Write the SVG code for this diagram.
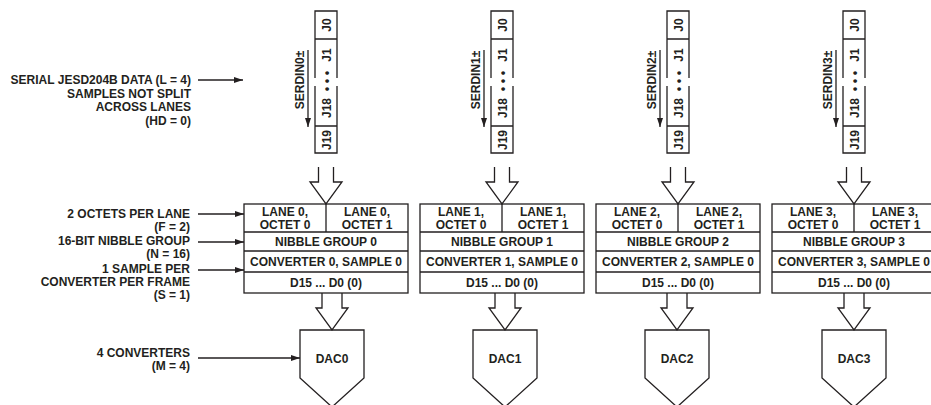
<svg xmlns="http://www.w3.org/2000/svg" width="931" height="405" viewBox="0 0 931 405">
<defs>
<style>
text{font-family:"Liberation Sans",Arial,sans-serif;font-weight:bold;font-size:12px;fill:#231f20}
.c{text-anchor:middle}
.e{text-anchor:end}
.ln{fill:none;stroke:#231f20;stroke-width:1.3}
.bx{fill:#fff;stroke:#231f20;stroke-width:1.3}
.ar{fill:none;stroke:#231f20;stroke-width:1.3}
.dot{fill:#231f20}
</style>
<marker id="ah" markerUnits="userSpaceOnUse" markerWidth="10" markerHeight="7" refX="9" refY="3" orient="auto">
<path d="M0,0 L9,3 L0,6 z" fill="#231f20"/>
</marker>
</defs>
<rect width="931" height="405" fill="#fff"/>

<g id="labels">
<g id="label-serial">
<text class="e" x="191" y="84">SERIAL JESD204B DATA (L = 4)</text>
<text class="e" x="191" y="97.5">SAMPLES NOT SPLIT</text>
<text class="e" x="191" y="111">ACROSS LANES</text>
<text class="e" x="191" y="124.5">(HD = 0)</text>
</g>
<g id="label-octets">
<text class="e" x="190" y="218">2 OCTETS PER LANE</text>
<text class="e" x="190" y="231">(F = 2)</text>
</g>
<g id="label-nibble">
<text class="e" x="190" y="245">16-BIT NIBBLE GROUP</text>
<text class="e" x="190" y="258">(N = 16)</text>
</g>
<g id="label-sample">
<text class="e" x="190" y="273">1 SAMPLE PER</text>
<text class="e" x="190" y="286">CONVERTER PER FRAME</text>
<text class="e" x="190" y="299">(S = 1)</text>
</g>
<g id="label-converters">
<text class="e" x="190" y="357">4 CONVERTERS</text>
<text class="e" x="190" y="370">(M = 4)</text>
</g>
</g>

<g id="lane0">
<path class="ln" d="M315,78 V11 H337 V78 M315,86 V153 H337 V86 M315,39 H337 M315,126 H337"/>
<text class="c" transform="translate(330.5,25) rotate(-90)">J0</text>
<text class="c" transform="translate(330.5,55) rotate(-90)">J1</text>
<text class="c" transform="translate(330.5,73) rotate(-90)">•</text>
<text class="c" transform="translate(330.5,81) rotate(-90)">•</text>
<text class="c" transform="translate(330.5,89) rotate(-90)">•</text>
<text class="c" transform="translate(330.5,108) rotate(-90)">J18</text>
<text class="c" transform="translate(330.5,140) rotate(-90)">J19</text>
<text class="c" transform="translate(304,80) rotate(-90)">SERDIN0±</text>
</g>
<g id="lane1">
<path class="ln" d="M491,78 V11 H513 V78 M491,86 V153 H513 V86 M491,39 H513 M491,126 H513"/>
<text class="c" transform="translate(506.5,25) rotate(-90)">J0</text>
<text class="c" transform="translate(506.5,55) rotate(-90)">J1</text>
<text class="c" transform="translate(506.5,73) rotate(-90)">•</text>
<text class="c" transform="translate(506.5,81) rotate(-90)">•</text>
<text class="c" transform="translate(506.5,89) rotate(-90)">•</text>
<text class="c" transform="translate(506.5,108) rotate(-90)">J18</text>
<text class="c" transform="translate(506.5,140) rotate(-90)">J19</text>
<text class="c" transform="translate(480,80) rotate(-90)">SERDIN1±</text>
</g>
<g id="lane2">
<path class="ln" d="M667,78 V11 H689 V78 M667,86 V153 H689 V86 M667,39 H689 M667,126 H689"/>
<text class="c" transform="translate(682.5,25) rotate(-90)">J0</text>
<text class="c" transform="translate(682.5,55) rotate(-90)">J1</text>
<text class="c" transform="translate(682.5,73) rotate(-90)">•</text>
<text class="c" transform="translate(682.5,81) rotate(-90)">•</text>
<text class="c" transform="translate(682.5,89) rotate(-90)">•</text>
<text class="c" transform="translate(682.5,108) rotate(-90)">J18</text>
<text class="c" transform="translate(682.5,140) rotate(-90)">J19</text>
<text class="c" transform="translate(656,80) rotate(-90)">SERDIN2±</text>
</g>
<g id="lane3">
<path class="ln" d="M843,78 V11 H865 V78 M843,86 V153 H865 V86 M843,39 H865 M843,126 H865"/>
<text class="c" transform="translate(858.5,25) rotate(-90)">J0</text>
<text class="c" transform="translate(858.5,55) rotate(-90)">J1</text>
<text class="c" transform="translate(858.5,73) rotate(-90)">•</text>
<text class="c" transform="translate(858.5,81) rotate(-90)">•</text>
<text class="c" transform="translate(858.5,89) rotate(-90)">•</text>
<text class="c" transform="translate(858.5,108) rotate(-90)">J18</text>
<text class="c" transform="translate(858.5,140) rotate(-90)">J19</text>
<text class="c" transform="translate(832,80) rotate(-90)">SERDIN3±</text>
</g>

<g id="frame0">
<rect class="bx" x="244" y="204" width="164" height="89"/>
<path class="ln" d="M244,232 H408 M244,251 H408 M244,272 H408 M326,204 V232"/>
<text class="c" x="285" y="216">LANE 0,</text>
<text class="c" x="285" y="228.5">OCTET 0</text>
<text class="c" x="367" y="216">LANE 0,</text>
<text class="c" x="367" y="228.5">OCTET 1</text>
<text class="c" x="326" y="246">NIBBLE GROUP 0</text>
<text class="c" x="326" y="266">CONVERTER 0, SAMPLE 0</text>
<text class="c" x="326" y="287">D15 ... D0 (0)</text>
</g>
<g id="frame1">
<rect class="bx" x="420" y="204" width="164" height="89"/>
<path class="ln" d="M420,232 H584 M420,251 H584 M420,272 H584 M502,204 V232"/>
<text class="c" x="461" y="216">LANE 1,</text>
<text class="c" x="461" y="228.5">OCTET 0</text>
<text class="c" x="543" y="216">LANE 1,</text>
<text class="c" x="543" y="228.5">OCTET 1</text>
<text class="c" x="502" y="246">NIBBLE GROUP 1</text>
<text class="c" x="502" y="266">CONVERTER 1, SAMPLE 0</text>
<text class="c" x="502" y="287">D15 ... D0 (0)</text>
</g>
<g id="frame2">
<rect class="bx" x="596" y="204" width="164" height="89"/>
<path class="ln" d="M596,232 H760 M596,251 H760 M596,272 H760 M678,204 V232"/>
<text class="c" x="637" y="216">LANE 2,</text>
<text class="c" x="637" y="228.5">OCTET 0</text>
<text class="c" x="719" y="216">LANE 2,</text>
<text class="c" x="719" y="228.5">OCTET 1</text>
<text class="c" x="678" y="246">NIBBLE GROUP 2</text>
<text class="c" x="678" y="266">CONVERTER 2, SAMPLE 0</text>
<text class="c" x="678" y="287">D15 ... D0 (0)</text>
</g>
<g id="frame3">
<rect class="bx" x="772" y="204" width="164" height="89"/>
<path class="ln" d="M772,232 H936 M772,251 H936 M772,272 H936 M854,204 V232"/>
<text class="c" x="813" y="216">LANE 3,</text>
<text class="c" x="813" y="228.5">OCTET 0</text>
<text class="c" x="895" y="216">LANE 3,</text>
<text class="c" x="895" y="228.5">OCTET 1</text>
<text class="c" x="854" y="246">NIBBLE GROUP 3</text>
<text class="c" x="854" y="266">CONVERTER 3, SAMPLE 0</text>
<text class="c" x="854" y="287">D15 ... D0 (0)</text>
</g>

<g id="dac0">
<path class="bx" d="M300,330 H364 V378 L332,407 L300,378 Z"/>
<text class="c" x="332" y="363">DAC0</text>
</g>
<g id="dac1">
<path class="bx" d="M473,330 H537 V378 L505,407 L473,378 Z"/>
<text class="c" x="505" y="363">DAC1</text>
</g>
<g id="dac2">
<path class="bx" d="M645,330 H709 V378 L677,407 L645,378 Z"/>
<text class="c" x="677" y="363">DAC2</text>
</g>
<g id="dac3">
<path class="bx" d="M822,330 H886 V378 L854,407 L822,378 Z"/>
<text class="c" x="854" y="363">DAC3</text>
</g>

<g id="connectors">
<path class="ar" marker-end="url(#ah)" d="M198,80 H243"/>
<path class="ar" marker-end="url(#ah)" d="M198,214 H244"/>
<path class="ar" marker-end="url(#ah)" d="M198,242 H244"/>
<path class="ar" marker-end="url(#ah)" d="M198,270 H244"/>
<path class="ar" marker-end="url(#ah)" d="M198,358 H300"/>
<path class="ar" marker-end="url(#ah)" d="M308,50 V127"/>
<path class="ar" marker-end="url(#ah)" d="M484,50 V127"/>
<path class="ar" marker-end="url(#ah)" d="M660,50 V127"/>
<path class="ar" marker-end="url(#ah)" d="M836,50 V127"/>
<path class="ar" d="M318.5,167 V182 H310 L326,204 L342,182 H333.5 V167"/>
<path class="ar" d="M494.5,167 V182 H486 L502,204 L518,182 H509.5 V167"/>
<path class="ar" d="M670.5,167 V182 H662 L678,204 L694,182 H685.5 V167"/>
<path class="ar" d="M846.5,167 V182 H838 L854,204 L870,182 H861.5 V167"/>
<path class="ar" d="M322,293 V308 H316 L332,330 L348,308 H342 V293"/>
<path class="ar" d="M495,293 V308 H489 L505,330 L521,308 H515 V293"/>
<path class="ar" d="M667,293 V308 H661 L677,330 L693,308 H687 V293"/>
<path class="ar" d="M844,293 V308 H838 L854,330 L870,308 H864 V293"/>
</g>
</svg>
